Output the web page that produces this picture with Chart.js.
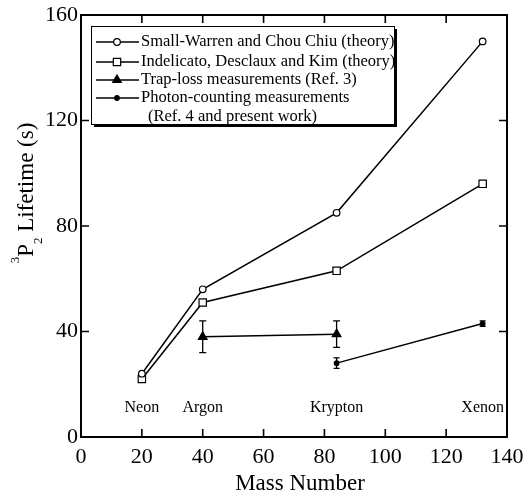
<!DOCTYPE html>
<html>
<head>
<meta charset="utf-8">
<script src="https://cdn.jsdelivr.net/npm/chart.js@4.4.0/dist/chart.umd.min.js"></script>
<style>
  html, body { margin: 0; padding: 0; background: #fff; }
  #wrap { width: 525px; height: 495px; }
</style>
</head>
<body>
<div id="wrap"><canvas id="chart" width="525" height="495"></canvas></div>
<script>
// ---- data ----
const massNumbers = [20, 40, 84, 132];
const elementNames = ['Neon', 'Argon', 'Krypton', 'Xenon'];
const smallWarren = [24, 56, 85, 150];
const indelicato = [22, 51, 63, 96];
const trapMass = [40, 84];
const trapLoss = [38, 39];
const trapErr = [6, 5];
const photonMass = [84, 132];
const photonCount = [28, 43];
const photonErr = [2, 1];
const xTicks = [0, 20, 40, 60, 80, 100, 120, 140];
const yTicks = [0, 40, 80, 120, 160];
const elementLabelY = 11;
const legendLabels = [
  ['Small-Warren and Chou Chiu (theory)'],
  ['Indelicato, Desclaux and Kim (theory)'],
  ['Trap-loss measurements (Ref. 3)'],
  ['Photon-counting measurements', '(Ref. 4 and present work)']
];

const SERIF = '"Liberation Serif", "Times New Roman", Times, serif';
const pts = (xs, ys) => xs.map((v, i) => ({ x: v, y: ys[i] }));

const markers = [
  { pointStyle: 'circle', radius: 3.3, fill: '#fff' },
  { pointStyle: 'rect', radius: 5.2, fill: '#fff' },
  { pointStyle: 'triangle', radius: 5, fill: '#000' },
  { pointStyle: 'circle', radius: 2.3, fill: '#000' }
];

function ds(data, m) {
  return {
    data, showLine: true, borderColor: '#000', borderWidth: 1.5,
    pointStyle: m.pointStyle, pointRadius: m.radius,
    pointBackgroundColor: m.fill, pointBorderColor: '#000', pointBorderWidth: 1.2
  };
}

const decor = {
  id: 'decor',
  afterDatasetsDraw(chart) {
    const { ctx, chartArea: a, scales: { x, y } } = chart;
    ctx.save();
    ctx.strokeStyle = '#000';
    ctx.fillStyle = '#000';

    // error bars
    ctx.lineWidth = 1.3;
    const bars = (xs, ys, es, cap) => xs.forEach((m, i) => {
      const px = x.getPixelForValue(m);
      const top = y.getPixelForValue(ys[i] + es[i]);
      const bot = y.getPixelForValue(ys[i] - es[i]);
      ctx.beginPath();
      ctx.moveTo(px, top); ctx.lineTo(px, bot);
      ctx.moveTo(px - cap, top); ctx.lineTo(px + cap, top);
      ctx.moveTo(px - cap, bot); ctx.lineTo(px + cap, bot);
      ctx.stroke();
    });
    bars(trapMass, trapLoss, trapErr, 3.5);
    bars(photonMass, photonCount, photonErr, 3);

    // element names
    ctx.font = '16px ' + SERIF;
    ctx.textAlign = 'center';
    ctx.textBaseline = 'middle';
    elementNames.forEach((n, i) =>
      ctx.fillText(n, x.getPixelForValue(massNumbers[i]), y.getPixelForValue(elementLabelY)));

    // frame
    ctx.lineWidth = 2;
    ctx.strokeRect(a.left, a.top, a.right - a.left, a.bottom - a.top);

    // inward ticks on all sides
    ctx.lineWidth = 1.6;
    ctx.beginPath();
    xTicks.slice(1, -1).forEach(v => {
      const px = x.getPixelForValue(v);
      ctx.moveTo(px, a.bottom); ctx.lineTo(px, a.bottom - 8);
      ctx.moveTo(px, a.top); ctx.lineTo(px, a.top + 8);
    });
    yTicks.slice(1, -1).forEach(v => {
      const py = y.getPixelForValue(v);
      ctx.moveTo(a.left, py); ctx.lineTo(a.left + 8, py);
      ctx.moveTo(a.right, py); ctx.lineTo(a.right - 8, py);
    });
    ctx.stroke();

    // legend box with shadow
    const L = 91, T = 26, W = 303, H = 98;
    ctx.fillRect(L + 3, T + 3, W, H);
    ctx.fillStyle = '#fff';
    ctx.fillRect(L, T, W, H);
    ctx.lineWidth = 1;
    ctx.strokeRect(L + 0.5, T + 0.5, W, H);

    const rowY = [42, 62, 80, 98, 117];
    ctx.font = '16.5px ' + SERIF;
    ctx.textAlign = 'left';
    ctx.textBaseline = 'middle';
    let row = 0;
    legendLabels.forEach((lines, i) => {
      const cy = rowY[row];
      ctx.lineWidth = 1.5;
      ctx.beginPath(); ctx.moveTo(96, cy); ctx.lineTo(139, cy); ctx.stroke();
      const m = markers[i];
      ctx.fillStyle = m.fill;
      ctx.lineWidth = 1.2;
      Chart.helpers.drawPoint(ctx, { pointStyle: m.pointStyle, radius: m.radius, rotation: 0, borderWidth: 1.2 }, 117, cy);
      ctx.fillStyle = '#000';
      lines.forEach((t, k) => {
        ctx.fillText(t, k === 0 ? 141 : 148, rowY[row]);
        row++;
      });
    });

    // x axis title
    ctx.font = '23px ' + SERIF;
    ctx.textAlign = 'center';
    ctx.textBaseline = 'middle';
    ctx.fillText('Mass Number', 300, 484);

    // y axis title with super/subscript
    ctx.translate(33, 193);
    ctx.rotate(-Math.PI / 2);
    ctx.textBaseline = 'alphabetic';
    ctx.textAlign = 'left';
    const parts = [['3', 13, -14], ['P', 23, 0], ['2', 13, 9], [' Lifetime (s)', 23, 0]];
    let total = 0;
    parts.forEach(p => { ctx.font = p[1] + 'px ' + SERIF; total += ctx.measureText(p[0]).width; });
    let cx = -total / 2;
    parts.forEach(p => {
      ctx.font = p[1] + 'px ' + SERIF;
      ctx.fillText(p[0], cx, p[2]);
      cx += ctx.measureText(p[0]).width;
    });
    ctx.restore();
  }
};

const tickFont = { family: SERIF, size: 22 };

new Chart(document.getElementById('chart'), {
  type: 'scatter',
  data: {
    datasets: [
      ds(pts(massNumbers, smallWarren), markers[0]),
      ds(pts(massNumbers, indelicato), markers[1]),
      ds(pts(trapMass, trapLoss), markers[2]),
      ds(pts(photonMass, photonCount), markers[3])
    ]
  },
  options: {
    responsive: false,
    animation: false,
    layout: { padding: { top: 15, right: 18, left: 0, bottom: 0 } },
    plugins: { legend: { display: false }, tooltip: { enabled: false } },
    scales: {
      x: {
        type: 'linear', min: 0, max: 140,
        afterBuildTicks: s => { s.ticks = xTicks.map(v => ({ value: v })); },
        afterFit: s => { s.height = 58; s.paddingLeft = 0; s.paddingRight = 0; },
        grid: { display: false, drawTicks: false },
        border: { display: false },
        ticks: { font: tickFont, color: '#000', padding: 7, maxRotation: 0, autoSkip: false }
      },
      y: {
        type: 'linear', min: 0, max: 160,
        afterBuildTicks: s => { s.ticks = yTicks.map(v => ({ value: v })); },
        afterFit: s => { s.width = 81; s.paddingTop = 0; s.paddingBottom = 0; },
        grid: { display: false, drawTicks: false },
        border: { display: false },
        ticks: { font: tickFont, color: '#000', padding: 3, autoSkip: false }
      }
    }
  },
  plugins: [decor]
});
</script>
</body>
</html>
